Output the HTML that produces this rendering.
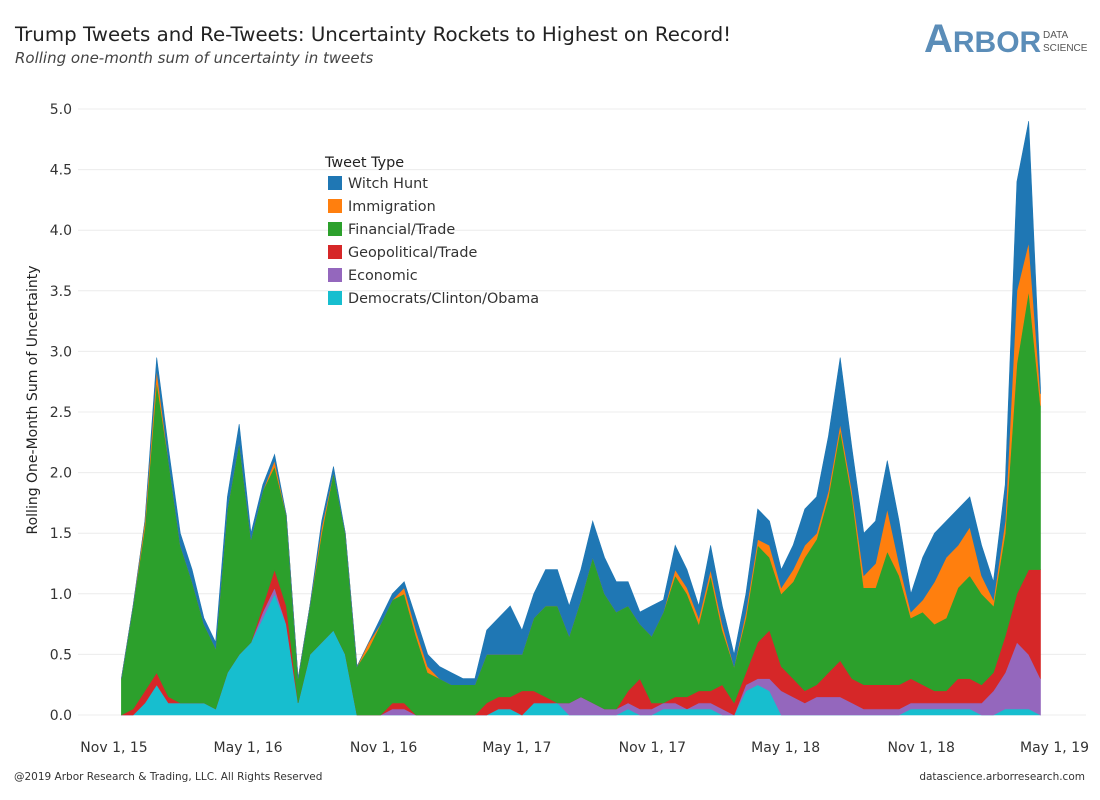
<!DOCTYPE html>
<html><head><meta charset="utf-8"><style>
body{margin:0;background:#fff;font-family:"DejaVu Sans","Liberation Sans",sans-serif;}
#wrap{position:relative;width:1100px;height:800px;overflow:hidden;}
</style></head><body>
<div id="wrap">
<svg id="chart" width="1100" height="800" font-family="DejaVu Sans, Liberation Sans, sans-serif">
<text x="15" y="41" font-size="19.8" fill="#222">Trump Tweets and Re-Tweets: Uncertainty Rockets to Highest on Record!</text>
<text x="15" y="63" font-size="15" font-style="italic" fill="#444">Rolling one-month sum of uncertainty in tweets</text>
<g>
<text x="924" y="52" font-size="40" font-weight="bold" fill="#5b8db8" font-family="Liberation Sans, sans-serif">A<tspan font-size="30">RBOR</tspan></text>
<text x="1043" y="38" font-size="10" fill="#555" font-family="Liberation Sans, sans-serif">DATA</text>
<text x="1043" y="51" font-size="10" fill="#555" font-family="Liberation Sans, sans-serif">SCIENCE</text>
</g>
<g id="grid"></g>
<g id="areas"></g>
<g id="yticks"></g>
<g id="xticks"></g>
<text transform="translate(37,400) rotate(-90)" text-anchor="middle" font-size="14" fill="#222">Rolling One-Month Sum of Uncertainty</text>
<g id="legend"></g>
<text x="14" y="780" font-size="10.5" fill="#333">@2019 Arbor Research &amp; Trading, LLC. All Rights Reserved</text>
<text x="1085" y="780" text-anchor="end" font-size="10.5" fill="#333">datascience.arborresearch.com</text>
</svg>
</div>
<script>
// days since Nov 1, 2015 (step 16)
const days = Array.from({length:79},(_, i)=>10+16*i);
const democrats = [0,0,.1,.25,.1,.1,.1,.1,.05,.35,.5,.6,.8,1.0,.75,.1,.5,.6,.7,.5,0,0,0,0,0,0,0,0,0,0,0,0,.05,.05,0,.1,.1,.1,0,0,0,0,0,.05,0,0,.05,.05,.05,.05,.05,0,0,.2,.25,.2,0,0,0,0,0,0,0,0,0,0,0,.05,.05,.05,.05,.05,.05,0,0,.05,.05,.05,0];
const economic = [0,0,0,0,0,0,0,0,0,0,0,0,.05,.05,0,0,0,0,0,0,0,0,0,.05,.05,0,0,0,0,0,0,0,0,0,0,0,0,0,.1,.15,.1,.05,.05,.05,.05,.05,.05,.05,0,.05,.05,.05,0,.05,.05,.1,.2,.15,.1,.15,.15,.15,.1,.05,.05,.05,.05,.05,.05,.05,.05,.05,.05,.1,.2,.3,.55,.45,.3];
const geopolitical = [0,.05,.1,.1,.05,0,0,0,0,0,0,0,.05,.15,.15,0,0,0,0,0,0,0,0,.05,.05,0,0,0,0,0,0,.1,.1,.1,.2,.1,.05,0,0,0,0,0,0,.1,.25,.05,0,.05,.1,.1,.1,.2,.1,.1,.3,.4,.2,.15,.1,.1,.2,.3,.2,.2,.2,.2,.2,.2,.15,.1,.1,.2,.2,.15,.15,.3,.4,.7,.9];
const financial = [.3,.85,1.35,2.4,1.95,1.3,1.0,.65,.5,1.35,1.75,.85,.95,.85,.75,.2,.4,.9,1.3,1.0,.4,.55,.75,.85,.9,.65,.35,.3,.25,.25,.25,.4,.35,.35,.3,.6,.75,.8,.55,.8,1.2,.95,.8,.7,.45,.55,.75,1.0,.85,.55,.95,.45,.3,.45,.8,.6,.6,.8,1.1,1.2,1.45,1.9,1.5,.8,.8,1.1,.9,.5,.6,.55,.6,.75,.85,.75,.55,.85,1.9,2.3,1.35];
const immigration = [0,0,.05,.1,0,0,0,0,0,0,0,0,0,.05,0,0,0,.05,0,0,0,.05,0,0,.05,.05,.05,0,0,0,0,0,0,0,0,0,0,0,0,0,0,0,0,0,0,0,0,.05,.05,.05,.05,.05,0,.05,.05,.1,.05,.1,.1,.05,.05,.05,.05,.1,.2,.35,.1,.05,.1,.35,.5,.35,.4,.15,.05,.1,.6,.4,.1];
const witchHunt = [0,0,0,.1,.1,.1,.1,.05,.05,.1,.15,.05,.05,.05,0,0,0,.05,.05,0,0,0,.05,.05,.05,.1,.1,.1,.1,.05,.05,.2,.3,.4,.2,.2,.3,.3,.25,.25,.3,.3,.25,.2,.1,.25,.1,.2,.15,.1,.2,.15,.1,.15,.25,.2,.15,.2,.3,.3,.45,.55,.35,.35,.35,.4,.35,.15,.35,.4,.3,.3,.25,.25,.15,.3,.9,1.0,.05];
const seriesNames = ["Democrats/Clinton/Obama","Economic","Geopolitical/Trade","Financial/Trade","Immigration","Witch Hunt"];
const seriesData = [democrats,economic,geopolitical,financial,immigration,witchHunt];
const colors = ["#17becf","#9467bd","#d62728","#2ca02c","#ff7f0e","#1f77b4"];
const yTicks = [0,0.5,1,1.5,2,2.5,3,3.5,4,4.5,5];
const xTickDays = [0,182,366,547,731,912,1096,1277];
const xTickLabels = ["Nov 1, 15","May 1, 16","Nov 1, 16","May 1, 17","Nov 1, 17","May 1, 18","Nov 1, 18","May 1, 19"];

const NS="http://www.w3.org/2000/svg";
const xS=d=>114+d*0.7365;
const yS=v=>715-v*121.2;
function mk(tag,attrs,parent){const e=document.createElementNS(NS,tag);for(const k in attrs)e.setAttribute(k,attrs[k]);parent.appendChild(e);return e;}
const grid=document.getElementById('grid'),yt=document.getElementById('yticks'),xt=document.getElementById('xticks'),areas=document.getElementById('areas'),lg=document.getElementById('legend');
yTicks.forEach(v=>{
  const l=mk('line',{x1:78,x2:1086,y1:yS(v),y2:yS(v),stroke:'#ececec','stroke-width':1},grid);
  
  
  const t=mk('text',{x:72,y:yS(v)+5,'text-anchor':'end','font-size':14,fill:'#333'},yt);
  t.textContent=v.toFixed(1);
  
  
});
xTickDays.forEach((d,i)=>{
  const t=mk('text',{x:xS(d),y:752,'text-anchor':'middle','font-size':14,fill:'#333'},xt);
  t.textContent=xTickLabels[i];
  
  
});
let base=days.map(()=>0);
seriesData.forEach((s,k)=>{
  const top=base.map((b,i)=>b+s[i]);
  let d='M'+days.map((dd,i)=>xS(dd).toFixed(1)+','+yS(top[i]).toFixed(1)).join('L');
  for(let i=days.length-1;i>=0;i--)d+='L'+xS(days[i]).toFixed(1)+','+yS(base[i]).toFixed(1);
  d+='Z';
  const p=mk('path',{d:d,fill:colors[k],stroke:colors[k],'stroke-width':0.6},areas);
  
  
  base=top;
});
const lt=mk('text',{x:325,y:167,'font-size':14.4,fill:'#222'},lg);
lt.textContent='Tweet Type';


for(let j=0;j<6;j++){
  const k=5-j,y=183+j*23;
  const r=mk('rect',{x:328,y:y-7,width:14,height:14,fill:colors[k]},lg);
  
  
  const t=mk('text',{x:348,y:y+5,'font-size':14.4,fill:'#333'},lg);
  t.textContent=seriesNames[k];
  
  
}
</script>
</body></html>
